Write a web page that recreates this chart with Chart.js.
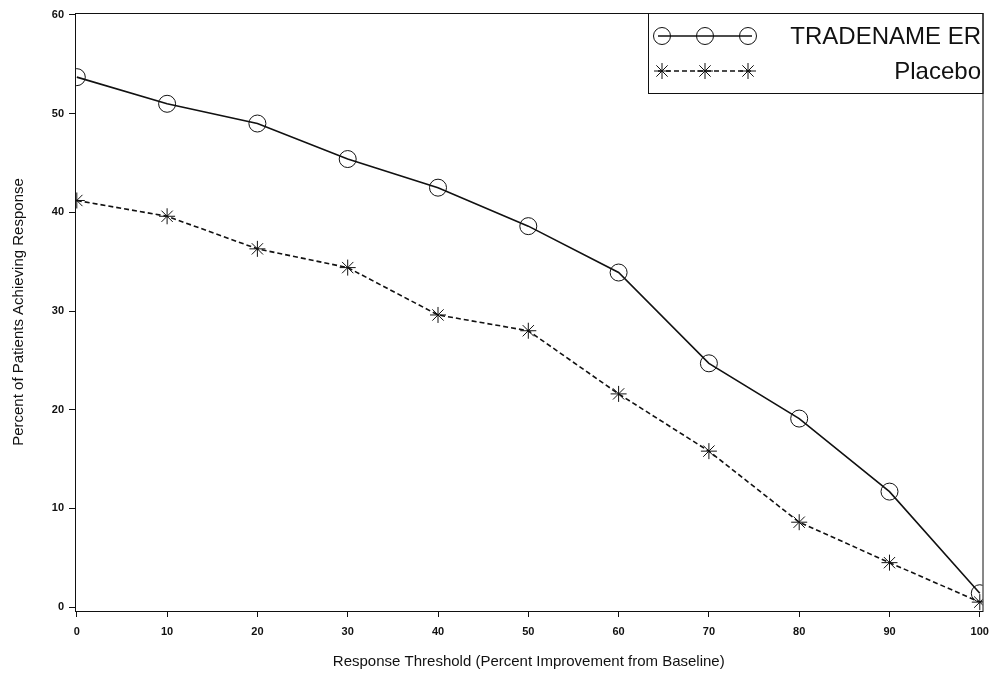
<!DOCTYPE html>
<html>
<head>
<meta charset="utf-8">
<script src="https://cdn.jsdelivr.net/npm/chart.js@4.4.1/dist/chart.umd.min.js"></script>
<style>
  html, body { margin: 0; padding: 0; background: #fff; overflow: hidden; }
  #wrap { width: 997px; height: 682px; }
</style>
</head>
<body>
<div id="wrap"><canvas id="responseChart"></canvas></div>
<script>
// -------------------------------------
// Data
// -------------------------------------
const thresholds = [0, 10, 20, 30, 40, 50, 60, 70, 80, 90, 100];
const tradenameER = [53.7, 51.0, 49.0, 45.4, 42.5, 38.6, 33.9, 24.7, 19.1, 11.7, 1.4];
const placebo = [41.2, 39.6, 36.3, 34.4, 29.6, 28.0, 21.6, 15.8, 8.6, 4.5, 0.5];
const xTicks = [0, 10, 20, 30, 40, 50, 60, 70, 80, 90, 100];
const yTicks = [0, 10, 20, 30, 40, 50, 60];

const toPoints = (vals) => vals.map((v, i) => ({ x: thresholds[i], y: v }));

// frame around the plot area + the boxed legend in the top right
const framePlugin = {
  id: "frame",
  afterDraw(chart) {
    const { ctx, chartArea: a } = chart;
    ctx.save();
    ctx.strokeStyle = "#111";
    ctx.lineWidth = 1;
    ctx.strokeRect(a.left + 0.5, a.top + 0.5, a.right - a.left, a.bottom - a.top);

    // legend box
    const bx = 648, by = a.top, bw = a.right - 648, bh = 80;
    ctx.strokeRect(bx + 0.5, by + 0.5, bw, bh);

    const rows = [
      { ds: chart.data.datasets[0], y: by + 23 },
      { ds: chart.data.datasets[1], y: by + 58 }
    ];
    rows.forEach((r) => {
      ctx.save();
      ctx.strokeStyle = "#111";
      ctx.lineWidth = r.ds.borderWidth;
      ctx.setLineDash(r.ds.borderDash || []);
      ctx.beginPath();
      ctx.moveTo(658, r.y);
      ctx.lineTo(752, r.y);
      ctx.stroke();
      ctx.restore();
      ctx.save();
      ctx.fillStyle = "rgba(0,0,0,0)";
      ctx.strokeStyle = "#111";
      [662, 705, 748].forEach((mx) => {
        Chart.helpers.drawPoint(ctx, {
          pointStyle: r.ds.pointStyle,
          radius: r.ds.pointRadius,
          borderWidth: 1
        }, mx, r.y);
      });
      ctx.restore();
      ctx.fillStyle = "#111";
      ctx.font = "24px 'Liberation Sans', Arial, sans-serif";
      ctx.textAlign = "right";
      ctx.textBaseline = "middle";
      ctx.fillText(r.ds.label, 981, r.y + 1);
    });
    ctx.restore();
  }
};

const ctx = document.getElementById("responseChart");

new Chart(ctx, {
  type: "line",
  data: {
    datasets: [
      {
        label: "TRADENAME ER",
        data: toPoints(tradenameER),
        borderColor: "#111",
        backgroundColor: "rgba(0,0,0,0)",
        borderWidth: 1.6,
        pointStyle: "circle",
        pointRadius: 8.5,
        pointBorderWidth: 1,
        pointBorderColor: "#111",
        pointBackgroundColor: "rgba(0,0,0,0)",
        tension: 0
      },
      {
        label: "Placebo",
        data: toPoints(placebo),
        borderColor: "#111",
        backgroundColor: "rgba(0,0,0,0)",
        borderWidth: 1.6,
        borderDash: [5, 3],
        pointStyle: "star",
        pointRadius: 8,
        pointBorderWidth: 1,
        pointBorderColor: "#111",
        tension: 0
      }
    ]
  },
  options: {
    responsive: true,
    maintainAspectRatio: false,
    animation: false,
    layout: { padding: { top: 13, right: 8, left: 0, bottom: 0 } },
    plugins: {
      legend: { display: false },
      tooltip: { enabled: false }
    },
    scales: {
      x: {
        type: "linear",
        min: -0.2,
        max: 100.3,
        afterBuildTicks: (s) => { s.ticks = xTicks.map((v) => ({ value: v })); },
        afterFit: (s) => { s.height = 71; },
        border: { display: true, color: "#111", width: 1 },
        grid: { drawOnChartArea: false, drawTicks: true, tickLength: 6, color: "#111" },
        ticks: {
          color: "#111",
          padding: 8,
          maxRotation: 0,
          autoSkip: false,
          font: { size: 11, weight: "bold", family: "'Liberation Sans Narrow', 'Liberation Sans', Arial" }
        },
        title: {
          display: true,
          text: "Response Threshold (Percent Improvement from Baseline)",
          color: "#111",
          padding: { top: 4, bottom: 11 },
          font: { size: 15, family: "'Liberation Sans', Arial, sans-serif" }
        }
      },
      y: {
        type: "linear",
        min: -0.4,
        max: 60.2,
        afterBuildTicks: (s) => { s.ticks = yTicks.map((v) => ({ value: v })); },
        afterFit: (s) => { s.width = 75; },
        border: { display: true, color: "#111", width: 1 },
        grid: { drawOnChartArea: false, drawTicks: true, tickLength: 6, color: "#111" },
        ticks: {
          color: "#111",
          padding: 5,
          autoSkip: false,
          font: { size: 11, weight: "bold", family: "'Liberation Sans Narrow', 'Liberation Sans', Arial" }
        },
        title: {
          display: true,
          text: "Percent of Patients Achieving Response",
          color: "#111",
          padding: { top: 10, bottom: 10 },
          font: { size: 15, family: "'Liberation Sans', Arial, sans-serif" }
        }
      }
    }
  },
  plugins: [framePlugin]
});
</script>
</body>
</html>
